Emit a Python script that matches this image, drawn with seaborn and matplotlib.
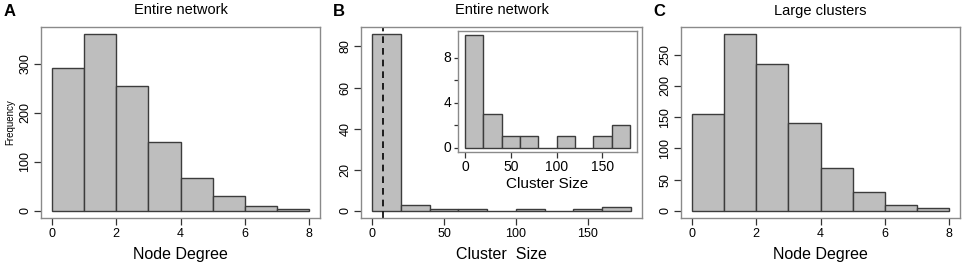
import pandas as pd
import matplotlib.pyplot as plt
import seaborn as sns

# Data (counts per bin)
degree_edges = [0, 1, 2, 3, 4, 5, 6, 7, 8]
degree_entire = [290, 360, 255, 141, 68, 31, 10, 4]
degree_large = [155, 283, 235, 140, 69, 31, 10, 5]

cluster_edges = [0, 20, 40, 60, 80, 100, 120, 140, 160, 180]
cluster_main = [86, 3, 1, 1, 0, 1, 0, 1, 2]
cluster_inset = [10, 3, 1, 1, 0, 1, 0, 1, 2]
cluster_cutoff = 7.5

sns.set_style("white")
plt.rcParams['font.family'] = ['Liberation Sans', 'DejaVu Sans']
plt.rcParams['text.color'] = 'black'

W, H = 963, 264
fig = plt.figure(figsize=(W / 100, H / 100), dpi=100)


def px_axes(left, right, top, bottom):
    return fig.add_axes([left / W, 1 - bottom / H, (right - left) / W, (bottom - top) / H])


def r_hist(ax, edges, counts, xticks, yticks, ylabels=None, fs=9):
    edges = [float(e) for e in edges]
    df = pd.DataFrame({
        "mid": [(a + b) / 2 for a, b in zip(edges[:-1], edges[1:])],
        "n": counts,
    })
    sns.histplot(data=df, x="mid", weights="n", bins=edges, ax=ax,
                 color="#bebebe", edgecolor="#3c3c3c", linewidth=1.0, alpha=1)
    span = edges[-1] - edges[0]
    ax.set_xlim(edges[0] - 0.043 * span, edges[-1] + 0.043 * span)
    top = max(counts)
    ax.set_ylim(-0.04 * top, 1.04 * top)
    ax.set_xticks(xticks)
    ax.set_yticks(yticks)
    if ylabels is not None:
        ax.set_yticklabels(ylabels)
    ax.tick_params(axis="both", direction="out", length=5, width=0.9,
                   color="#333333", labelcolor="black", labelsize=fs, pad=2,
                   bottom=True, left=True)
    for lab in ax.get_yticklabels():
        lab.set_rotation(90)
        lab.set_va("center")
    for s in ax.spines.values():
        s.set_color("#8a8a8a")
        s.set_linewidth(1.0)
    ax.set_xlabel("")
    ax.set_ylabel("")


# Panel A
axA = px_axes(41, 320, 27, 218)
r_hist(axA, degree_edges, degree_entire, [0, 2, 4, 6, 8], [0, 100, 200, 300])
axA.set_xlabel("Node Degree", fontsize=11.5, labelpad=5, color="black")
axA.set_ylabel("Frequency", fontsize=7, labelpad=3, color="black")
axA.set_title("Entire network", fontsize=10.5, pad=9, color="black")

# Panel B
axB = px_axes(361, 642, 27, 218)
r_hist(axB, cluster_edges, cluster_main, [0, 50, 100, 150], [0, 20, 40, 60, 80])
axB.axvline(cluster_cutoff, color="black", linestyle=(0, (4, 3)), linewidth=1.2)
axB.set_xlabel("Cluster  Size", fontsize=11.5, labelpad=5, color="black")
axB.set_title("Entire network", fontsize=10.5, pad=9, color="black")

axIn = px_axes(458, 637, 31, 152)
r_hist(axIn, cluster_edges, cluster_inset, [0, 50, 100, 150], [0, 2, 4, 6, 8],
       ylabels=["0", "", "4", "", "8"], fs=10)
for lab in axIn.get_yticklabels():
    lab.set_rotation(0)
axIn.tick_params(axis="y", length=3)
axIn.tick_params(axis="x", length=4)
axIn.set_xlabel("Cluster Size", fontsize=11, labelpad=2, color="black")

# Panel C
axC = px_axes(681, 960, 27, 218)
r_hist(axC, degree_edges, degree_large, [0, 2, 4, 6, 8], [0, 50, 100, 150, 200, 250])
axC.set_xlabel("Node Degree", fontsize=11.5, labelpad=5, color="black")
axC.set_title("Large clusters", fontsize=10.5, pad=9, color="black")

for letter, x in [("A", 4), ("B", 333), ("C", 653)]:
    fig.text(x / W, 1 - 11 / H, letter, fontsize=12, fontweight="bold", va="center")

fig.savefig("out.png", dpi=100)
